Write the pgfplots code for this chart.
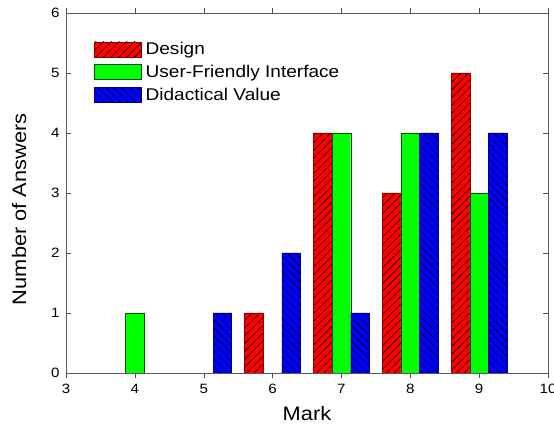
\documentclass[border=0pt]{standalone}
\usepackage{pgfplots}
\pgfplotsset{compat=1.18}
\usepackage{fontspec}
\setmainfont{Liberation Sans}[FakeStretch=1.12]
\usetikzlibrary{patterns.meta}
\begin{document}
\begin{tikzpicture}
\begin{axis}[
  at={(0,0)}, anchor=south west,
  width=482pt, height=360pt, scale only axis,
  xmin=3, xmax=10, ymin=0, ymax=6,
  xtick={3,...,10}, ytick={0,...,6},
  tick align=inside, major tick length=5pt,
  axis line style={draw=black!65},
  every tick/.style={black!70},
  xlabel={Mark}, ylabel={Number of Answers},
  label style={font=\fontsize{19.5}{21}\selectfont},
  ylabel style={at={(ticklabel cs:0.455)}},
  xlabel shift=6pt, ylabel shift=18pt,
  tick label style={font=\fontsize{13.5}{15}\selectfont},
  xticklabel style={yshift=-2.5pt},
  yticklabel style={xshift=-3pt},
  /pgf/number format/assume math mode=true,
  ybar, bar width=0.27,
  legend style={at={(0.052,0.93)}, anchor=north west, draw=none, fill=none,
    font=\fontsize{17}{19}\selectfont, row sep=5pt, cells={anchor=west},
    nodes={inner xsep=4pt}},
  legend image code/.code={\draw[#1] (0pt,-7.5pt) rectangle (47pt,7.5pt);},
]
\addplot[fill=red, draw=red!55!black, bar shift=-0.27,
  postaction={pattern={Lines[angle=45,distance=5.5pt,line width=0.6pt]}}]
  coordinates {(6,1) (7,4) (8,3) (9,5)};
\addlegendentry{Design}
\addplot[fill=green, draw=green!30!black, bar shift=0]
  coordinates {(4,1) (7,4) (8,4) (9,3)};
\addlegendentry{User-Friendly Interface}
\addplot[fill=blue, draw=blue!50!black, bar shift=0.27,
  postaction={pattern={Lines[angle=-45,distance=5.5pt,line width=0.6pt]}}]
  coordinates {(5,1) (6,2) (7,1) (8,4) (9,4)};
\addlegendentry{Didactical Value}
\end{axis}
\pgfresetboundingbox
\useasboundingbox (-66pt,-52pt) rectangle (488pt,373pt);
\end{tikzpicture}
\end{document}
